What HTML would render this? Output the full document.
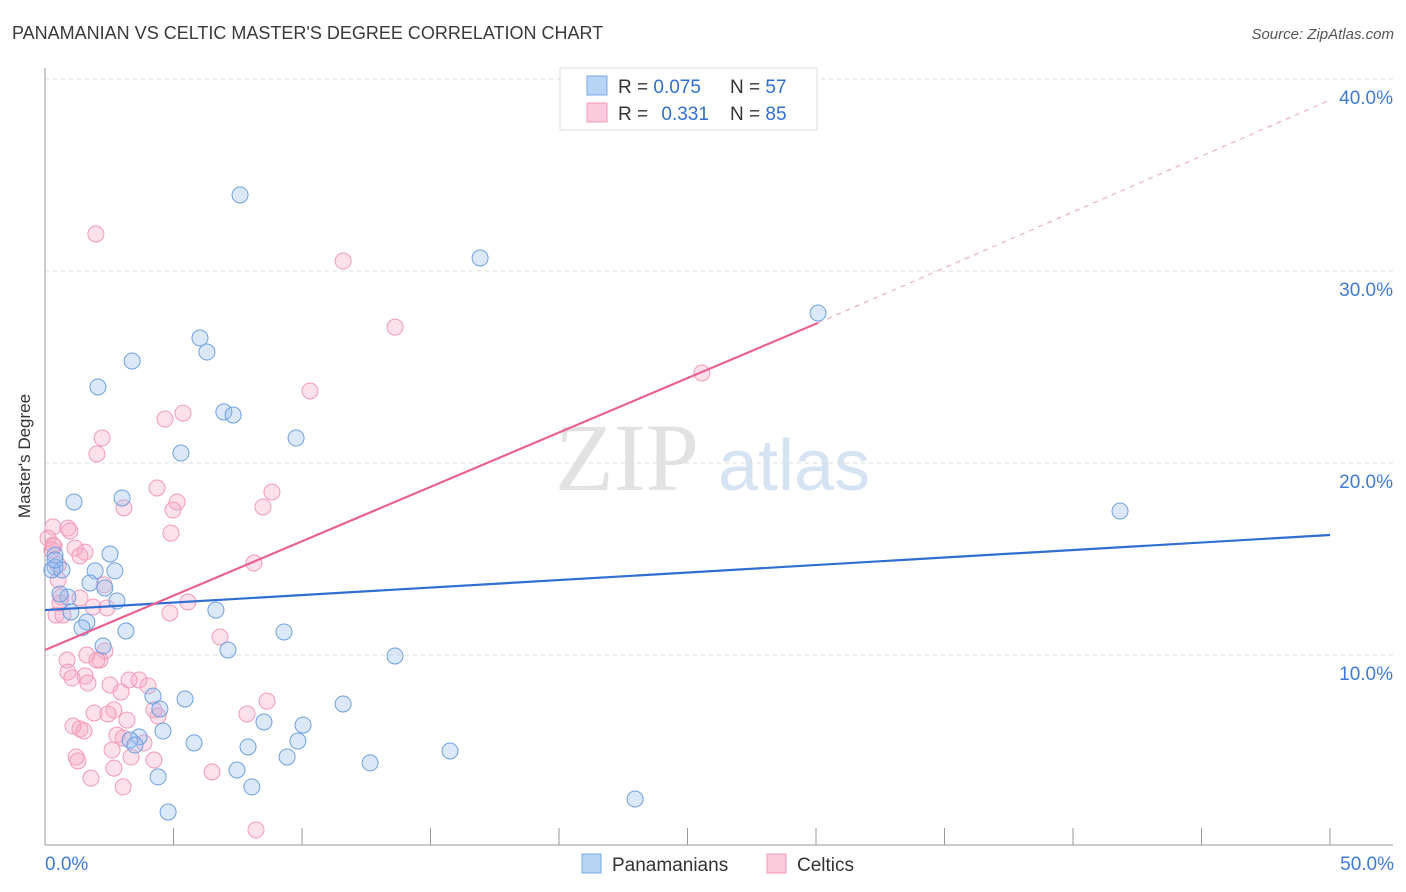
<!DOCTYPE html>
<html><head><meta charset="utf-8">
<style>
body{margin:0;background:#fff;width:1406px;height:892px;overflow:hidden;font-family:"Liberation Sans",sans-serif;}
svg{display:block}
</style></head><body>
<svg id="chart" width="1406" height="892">
<text x="12" y="39" font-size="18" fill="#3a3a3a">PANAMANIAN VS CELTIC MASTER'S DEGREE CORRELATION CHART</text>
<text x="1394" y="39" font-size="15" fill="#555" text-anchor="end" font-style="italic">Source: ZipAtlas.com</text>
<text x="30" y="456" font-size="17" fill="#333" text-anchor="middle" transform="rotate(-90 30 456)">Master's Degree</text>
<g>
<text x="555" y="490" font-family="Liberation Serif,serif" font-size="96" fill="#e2e2e2">ZIP</text>
<text x="718" y="490" font-size="72" fill="#d6e3f3">atlas</text>
</g>
<g id="grid"></g>
<g id="axes"></g>
<g id="marks"></g>
<g id="lines"></g>
<g>
<rect x="560" y="68" width="257" height="62" fill="#fff" stroke="#ddd"/>
<rect x="587" y="76" width="20" height="19" fill="#b8d4f5" stroke="#7aaae6"/>
<rect x="587" y="103" width="20" height="19" fill="#fbcadb" stroke="#f09ab9"/>
<text x="618" y="93" font-size="19" fill="#333">R = <tspan fill="#2f6fd0">0.075</tspan></text>
<text x="730" y="93" font-size="19" fill="#333">N = <tspan fill="#2f6fd0">57</tspan></text>
<text x="618" y="120" font-size="19" fill="#333">R = <tspan fill="#2f6fd0" dx="8">0.331</tspan></text>
<text x="730" y="120" font-size="19" fill="#333">N = <tspan fill="#2f6fd0">85</tspan></text>
</g>
<g>
<rect x="582" y="854" width="19" height="19" fill="#b8d4f5" stroke="#7aaae6"/>
<text x="612" y="871" font-size="19" fill="#333">Panamanians</text>
<rect x="767" y="854" width="19" height="19" fill="#fbcadb" stroke="#f09ab9"/>
<text x="797" y="871" font-size="19" fill="#333">Celtics</text>
</g>
</svg>
<script>
const yTicks=[10,20,30,40];
const yTickLabels=["10.0%","20.0%","30.0%","40.0%"];
const xTicks=[0,5,10,15,20,25,30,35,40,45,50];
const xEndLabels=["0.0%","50.0%"];
const blueX=[7.59,16.93,30.08,41.83,6.03,6.30,3.39,2.06,6.96,7.32,9.77,5.29,1.13,3.0,2.53,0.39,0.39,0.66,2.72,1.95,1.75,2.33,2.80,0.89,0.58,1.01,1.63,1.44,3.15,6.65,9.30,7.12,2.26,13.62,4.2,5.45,11.6,4.47,8.52,10.04,4.59,3.66,3.31,3.5,5.8,9.84,7.9,9.42,15.76,12.65,7.47,4.4,8.05,22.96,4.79,0.27,0.39];
const blueY=[33.96,30.68,27.81,17.5,26.51,25.78,25.31,23.96,22.66,22.5,21.3,20.52,17.97,18.18,15.26,15.21,14.58,14.43,14.38,14.38,13.75,13.49,12.81,13.02,13.18,12.24,11.72,11.41,11.25,12.34,11.2,10.26,10.47,9.95,7.86,7.71,7.45,7.19,6.51,6.35,6.04,5.73,5.57,5.31,5.42,5.52,5.21,4.69,5.0,4.38,4.01,3.65,3.13,2.5,1.82,14.43,14.95];
const pinkX=[1.98,11.6,13.62,25.56,10.31,5.37,4.67,2.22,2.02,4.36,8.83,5.14,3.07,4.98,8.48,0.89,0.97,0.31,4.9,0.12,0.31,1.17,1.56,1.36,0.35,0.27,8.13,0.51,2.3,0.62,1.36,5.56,1.87,2.41,4.86,0.43,0.7,6.81,2.33,1.63,2.14,0.86,2.02,0.89,1.56,1.05,1.67,2.53,3.66,3.27,4.01,2.96,8.64,4.24,1.91,2.68,2.45,4.4,7.86,3.19,1.09,1.36,1.52,2.8,3.04,3.85,2.61,1.21,1.28,3.35,4.24,2.68,6.5,1.79,3.04,8.21,0.51,0.58];
const pinkY=[31.93,30.52,27.08,24.69,23.75,22.6,22.29,21.3,20.47,18.7,18.49,17.97,17.66,17.55,17.71,16.61,16.46,16.67,16.35,16.09,15.73,15.57,15.36,15.16,15.68,15.47,14.79,13.91,13.65,13.02,12.97,12.76,12.5,12.45,12.19,12.08,12.08,10.94,10.21,10.0,9.74,9.74,9.74,9.11,8.91,8.8,8.54,8.44,8.7,8.7,8.39,8.07,7.6,7.14,6.98,7.14,6.93,6.82,6.93,6.61,6.3,6.15,6.04,5.83,5.68,5.42,5.05,4.69,4.48,4.69,4.53,4.11,3.91,3.59,3.13,0.89,14.69,12.71];
const blueLine=[12.34,16.25];
const pinkLine=[10.26,27.3,38.9];
const pinkSolidEnd=30.08;

const NS="http://www.w3.org/2000/svg";
const sx=v=>45+v*25.7;
const sy=v=>847-v*19.2;
function mk(t,a,p){const e=document.createElementNS(NS,t);for(const k in a)e.setAttribute(k,a[k]);p.appendChild(e);return e;}
const grid=document.getElementById('grid'),axes=document.getElementById('axes'),marks=document.getElementById('marks'),lines=document.getElementById('lines');
yTicks.forEach((v,i)=>{
  const g=mk('line',{x1:45,x2:1393,y1:sy(v),y2:sy(v),stroke:'#ddd','stroke-dasharray':'4,4'},grid);
  
  
  const t=mk('text',{x:1393,y:sy(v)+25,'font-size':19,fill:'#3f7bd6','text-anchor':'end'},axes);
  t.textContent=yTickLabels[i];
  
  
});
const la=mk('line',{x1:45,x2:45,y1:68,y2:845,stroke:'#999'},axes);


const ba=mk('line',{x1:45,x2:1393,y1:845,y2:845,stroke:'#999'},axes);


xTicks.forEach(v=>{
  const t=mk('line',{x1:sx(v),x2:sx(v),y1:828,y2:845,stroke:'#999'},axes);
  
  
});
const xl0=mk('text',{x:45,y:870,'font-size':19,fill:'#3f7bd6'},axes);
xl0.textContent=xEndLabels[0];


const xl1=mk('text',{x:1394,y:870,'font-size':19,fill:'#3f7bd6','text-anchor':'end'},axes);
xl1.textContent=xEndLabels[1];


pinkX.forEach((x,i)=>{
  const c=mk('circle',{cx:sx(x),cy:sy(pinkY[i]),r:8,fill:'rgba(246,170,196,0.35)',stroke:'#f29ab9','stroke-width':1},marks);
  
  
});
blueX.forEach((x,i)=>{
  const c=mk('circle',{cx:sx(x),cy:sy(blueY[i]),r:8,fill:'rgba(150,190,240,0.35)',stroke:'#6fa0e0','stroke-width':1},marks);
  
  
});
const bl=mk('line',{x1:sx(0),y1:sy(blueLine[0]),x2:sx(50),y2:sy(blueLine[1]),stroke:'#2f6fd0','stroke-width':2.2},lines);


const pl=mk('line',{x1:sx(0),y1:sy(pinkLine[0]),x2:sx(pinkSolidEnd),y2:sy(pinkLine[1]),stroke:'#e8638f','stroke-width':2.2},lines);


const pd=mk('line',{x1:sx(pinkSolidEnd),y1:sy(pinkLine[1]),x2:sx(50),y2:sy(pinkLine[2]),stroke:'#eea0bb','stroke-width':1,'stroke-dasharray':'5,5'},lines);


</script>
</body></html>
